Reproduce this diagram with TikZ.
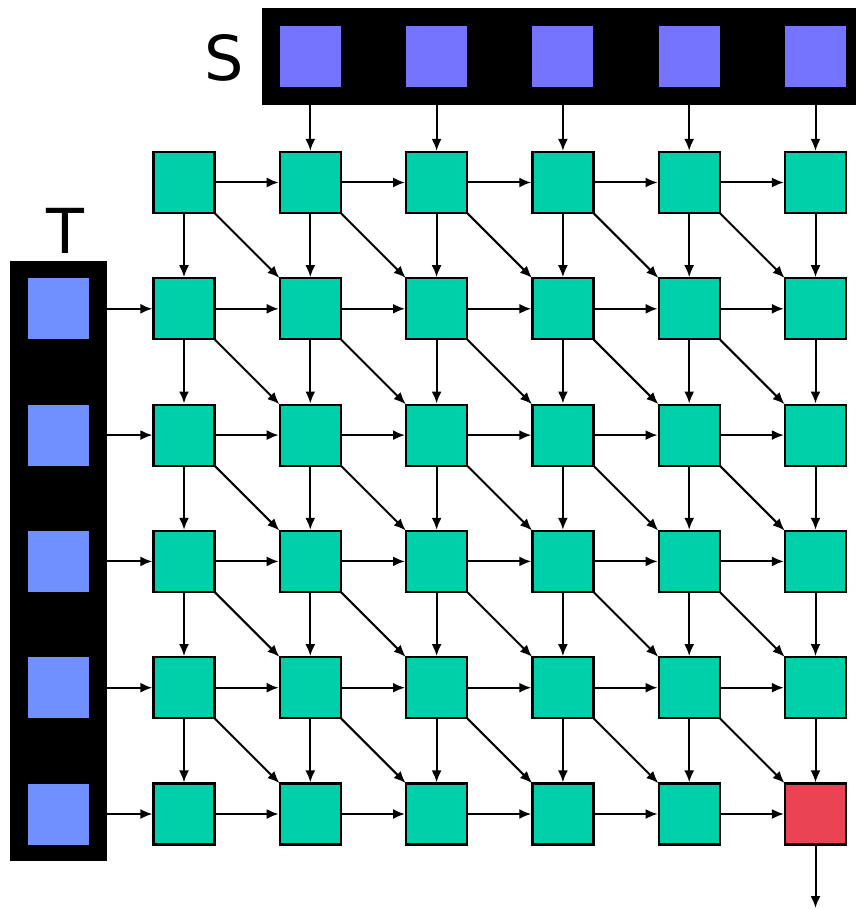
\documentclass[tikz,border=0pt]{standalone}
\usepackage{fontspec}
\setmainfont{DejaVu Sans}
\usetikzlibrary{arrows.meta}
\definecolor{cellgreen}{RGB}{0,208,170}
\definecolor{sblue}{RGB}{116,116,255}
\definecolor{tblue}{RGB}{112,144,255}
\definecolor{cellred}{RGB}{234,68,84}
\begin{document}
\begin{tikzpicture}[x=1pt,y=-1pt,
  cell/.style={draw=black,line width=2.2pt,fill=cellgreen,minimum size=61pt,inner sep=0pt},
  inbox/.style={fill=#1,minimum size=61pt,inner sep=0pt},
  bar/.style={fill=black,inner sep=0pt},
  conn/.style={line width=2pt,-{Latex[length=12pt,width=10pt]}},
  lbl/.style={font=\fontsize{62}{62}\selectfont,inner sep=0pt}]
\useasboundingbox (0,0) rectangle (856,909);
% bars
\node[bar,minimum width=594pt,minimum height=97pt] (sbar) at (559,56.5) {};
\node[bar,minimum width=97pt,minimum height=600pt] (tbar) at (58.5,561) {};
\node[lbl] (slbl) at (224,58) {S};
\node[lbl] (tlbl) at (65,231) {T};
% grid
\foreach \i in {0,...,5}{
  \foreach \j in {0,...,5}{
    \node[cell] (g-\i-\j) at ({184+126.3*\i},{182.5+126.3*\j}) {};
  }
}
\node[cell,fill=cellred] at (g-5-5) {};
% S inputs
\foreach \i in {1,...,5}{
  \node[inbox=sblue] (s-\i) at ({184+126.3*\i},56.5) {};
  \draw[conn] (s-\i |- sbar.south) -- (g-\i-0.north);
}
% T inputs
\foreach \j in {1,...,5}{
  \node[inbox=tblue] (t-\j) at (58,{182.5+126.3*\j}) {};
  \draw[conn] (tbar.east |- t-\j) -- (g-0-\j.west);
}
% horizontal
\foreach \i [evaluate=\i as \n using int(\i+1)] in {0,...,4}{
  \foreach \j in {0,...,5}{
    \draw[conn] (g-\i-\j.east) -- (g-\n-\j.west);
  }
}
% vertical
\foreach \i in {0,...,5}{
  \foreach \j [evaluate=\j as \m using int(\j+1)] in {0,...,4}{
    \draw[conn] (g-\i-\j.south) -- (g-\i-\m.north);
  }
}
% diagonal
\foreach \i [evaluate=\i as \n using int(\i+1)] in {0,...,4}{
  \foreach \j [evaluate=\j as \m using int(\j+1)] in {0,...,4}{
    \draw[conn,shorten >=-1pt,shorten <=-1pt] (g-\i-\j.south east) -- (g-\n-\m.north west);
  }
}
\coordinate (out) at (815.5,908);
\draw[conn] (g-5-5.south) -- (out);
\end{tikzpicture}
\end{document}
